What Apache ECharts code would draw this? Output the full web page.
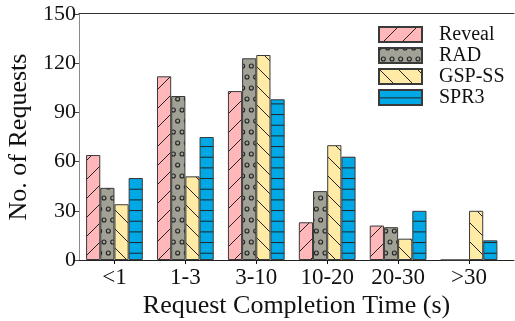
<!DOCTYPE html>
<html>
<head>
<meta charset="utf-8">
<script src="https://cdn.jsdelivr.net/npm/echarts@6/dist/echarts.min.js"></script>
<style>
  html, body { margin: 0; padding: 0; background: #fff; }
  #chart { width: 515px; height: 321px; }
</style>
</head>
<body>
<div id="chart"></div>
<script>
// Request completion time buckets and per-system request counts
const categories = ['<1', '1-3', '3-10', '10-20', '20-30', '>30'];
const reveal = [64, 112, 103, 23, 21, 0];
const rad    = [44, 100, 123, 42, 20, 0];
const gspSS  = [34, 51, 125, 70, 13, 30];
const spr3   = [50, 75, 98, 63, 30, 12];
const yTicks = { min: 0, max: 150, interval: 30 };

const FONT = 'Liberation Serif';
const EDGE = '#3a3a3a';
const HATCH = '#222222';

// Build a repeating hatch tile on an offscreen canvas
function hatchTile(bg, kind) {
  const c = document.createElement('canvas');
  let w, h;
  if (kind === '/' || kind === '\\') { w = 19; h = 19; }
  else if (kind === 'o') { w = 26; h = 22; }
  else { w = 8; h = 32; }
  c.width = w; c.height = h;
  const g = c.getContext('2d');
  g.fillStyle = bg;
  g.fillRect(0, 0, w, h);
  g.strokeStyle = HATCH;
  g.lineWidth = 1;
  if (kind === '/') {
    [-w, 0, w].forEach(function (o) {
      g.beginPath(); g.moveTo(o - 1, h + 1); g.lineTo(o + w + 1, -1); g.stroke();
    });
  } else if (kind === '\\') {
    [-w, 0, w].forEach(function (o) {
      g.beginPath(); g.moveTo(o - 1, -1); g.lineTo(o + w + 1, h + 1); g.stroke();
    });
  } else if (kind === 'o') {
    const dx = w / 3, pts = [];
    for (let i = 0; i <= 3; i++) { pts.push([i * dx, 0]); pts.push([i * dx, h]); }
    for (let i = 0; i < 3; i++) { pts.push([i * dx + dx / 2, h / 2]); }
    g.lineWidth = 1.1;
    pts.forEach(function (p) {
      g.beginPath(); g.arc(p[0], p[1], 2.0, 0, Math.PI * 2); g.stroke();
    });
  } else {
    [7.9, 18.57, 29.23].forEach(function (y) {
      g.beginPath(); g.moveTo(0, y); g.lineTo(w, y); g.stroke();
    });
  }
  return { image: c, repeat: 'repeat' };
}

const systems = [
  { name: 'Reveal', data: reveal, bg: '#ffb7b9', kind: '/' },
  { name: 'RAD',    data: rad,    bg: '#a1a196', kind: 'o' },
  { name: 'GSP-SS', data: gspSS,  bg: '#ffeaa6', kind: '\\' },
  { name: 'SPR3',   data: spr3,   bg: '#00a9e6', kind: '-' }
];

const chart = echarts.init(document.getElementById('chart'), null, { renderer: 'canvas' });

chart.setOption({
  animation: false,
  backgroundColor: '#ffffff',
  textStyle: { fontFamily: FONT },
  grid: [
    { left: 79, right: 10.5, top: 14, bottom: 61, outerBoundsMode: 'none' },
    { left: 79, right: 1, top: 13, bottom: 61, outerBoundsMode: 'none' }
  ],
  legend: {
    orient: 'vertical',
    left: 373, top: 19,
    itemWidth: 43, itemHeight: 15, itemGap: 0,
    icon: 'rect',
    formatter: function (n) { return '{g|}' + n; },
    textStyle: {
      fontFamily: FONT, fontSize: 20, color: '#111', lineHeight: 21,
      rich: { g: { width: 12 } }
    },
    data: systems.map(function (s) { return s.name; })
  },
  xAxis: [
    {
      type: 'category', gridIndex: 0, data: categories,
      axisLine: { show: false },
      axisTick: { show: true, alignWithLabel: true, length: 4, lineStyle: { color: '#111' } },
      axisLabel: { fontFamily: FONT, fontSize: 23, color: '#111', margin: 6 }
    },
    {
      type: 'value', gridIndex: 1, min: 0, max: 1, position: 'bottom',
      axisLine: { show: true, onZero: false, lineStyle: { color: '#222', width: 1 } },
      axisTick: { show: false }, axisLabel: { show: false }, splitLine: { show: false },
      name: 'Request Completion Time (s)', nameLocation: 'middle', nameGap: 33,
      nameTextStyle: { fontFamily: FONT, fontSize: 26, color: '#111' }
    },
    {
      type: 'value', gridIndex: 1, min: 0, max: 1, position: 'top',
      axisLine: { show: true, onZero: false, lineStyle: { color: '#333', width: 1 } },
      axisTick: { show: false }, axisLabel: { show: false }, splitLine: { show: false }
    }
  ],
  yAxis: [
    {
      type: 'value', gridIndex: 0,
      min: yTicks.min, max: yTicks.max, interval: yTicks.interval,
      axisLine: { show: true, lineStyle: { color: '#8a8a8a', width: 1 } },
      axisTick: { show: true, length: 5, lineStyle: { color: '#444' } },
      axisLabel: { fontFamily: FONT, fontSize: 22, color: '#111', margin: 3 },
      splitLine: { show: false },
      name: 'No. of Requests', nameLocation: 'middle', nameGap: 37,
      nameTextStyle: { fontFamily: FONT, fontSize: 26, color: '#111' }
    },
    { type: 'value', gridIndex: 1, show: false, min: 0, max: 1 }
  ],
  series: systems.map(function (s) {
    return {
      name: s.name, type: 'bar', xAxisIndex: 0, yAxisIndex: 0,
      data: s.data,
      barGap: '0%', barCategoryGap: '20%',
      itemStyle: { color: hatchTile(s.bg, s.kind), borderColor: EDGE, borderWidth: 1 },
      emphasis: { disabled: true }
    };
  })
});
</script>
</body>
</html>
